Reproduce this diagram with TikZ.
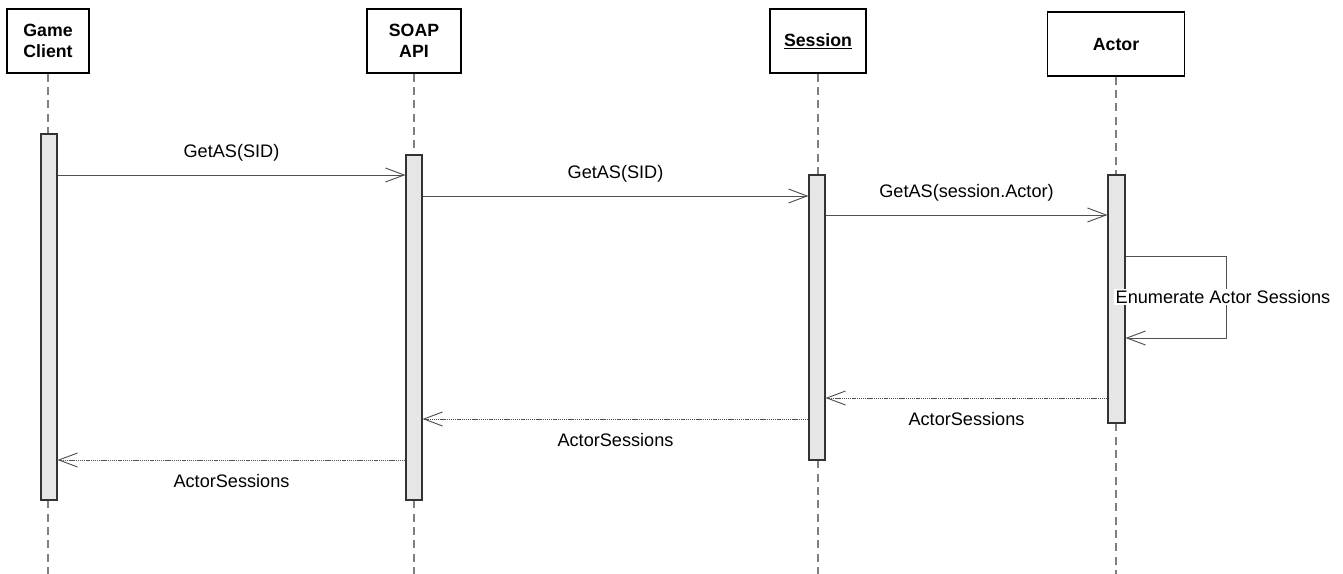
\documentclass[tikz,border=0pt]{standalone}
\usepackage{fontspec}
\setmainfont{Liberation Sans}
\usepackage{xcolor}
\usetikzlibrary{arrows.meta,fit}
\definecolor{linegray}{RGB}{80,80,80}
\definecolor{barfill}{RGB}{230,230,230}
\tikzset{
  head/.style={draw=black,line width=0.8pt,fill=white,align=center,inner sep=0pt,
    font=\fontsize{13.3}{15.5}\selectfont\bfseries},
  lifeline/.style={draw=gray,line width=0.8pt,dash pattern=on 6pt off 4pt},
  actbar/.style={draw=black!80,line width=0.8pt,fill=barfill,inner sep=0pt},
  msg/.style={draw=linegray,line width=0.7pt,-{Straight Barb[length=14pt,width=10.5pt]}},
  reply/.style={msg,dash pattern=on 1pt off 0.6pt},
  lbl/.style={font=\fontsize{13.6}{16}\selectfont,text=black}
}
\begin{document}
\begin{tikzpicture}[x=0.75pt,y=-0.75pt]
    \useasboundingbox (0,0) rectangle (1343,574);
    \node[head,minimum width=61.5pt,minimum height=48pt] (gc) at (48,41) {Game\\Client};
    \node[head,minimum width=70.5pt,minimum height=48pt] (soap) at (414,41) {SOAP\\API};
    \node[head,minimum width=72pt,minimum height=48pt] (sess) at (818,41) {\underline{Session}};
    \node[head,minimum width=102.75pt,minimum height=48pt] (actor) at (1116,44) {Actor};

    \draw[lifeline] (gc.south) -- (gc.south |- 0,574);
    \draw[lifeline] (soap.south) -- (soap.south |- 0,574);
    \draw[lifeline] (sess.south) -- (sess.south |- 0,574);
    \draw[lifeline] (actor.south) -- (actor.south |- 0,574);

    \node[actbar,fit={(41,134) (57,500)}] (gcbar) {};
    \node[actbar,fit={(406,155) (422,500)}] (soapbar) {};
    \node[actbar,fit={(809,175) (825,460)}] (sessbar) {};
    \node[actbar,fit={(1108,175) (1125,423)}] (actorbar) {};

    \draw[msg] (gcbar.east |- 0,175) -- node[lbl,above=7pt]{GetAS(SID)} (soapbar.west |- 0,175);
    \draw[msg] (soapbar.east |- 0,196) -- node[lbl,above=7pt]{GetAS(SID)} (sessbar.west |- 0,196);
    \draw[msg] (sessbar.east |- 0,215) -- node[lbl,above=7pt]{GetAS(session.Actor)} (actorbar.west |- 0,215);

    \coordinate (loop) at (1226,297);
    \draw[msg] (actorbar.east |- 0,256) -| (loop) |- (actorbar.east |- 0,338);
    \node[lbl,fill=white,inner sep=1pt] (enum) at (1223,297) {Enumerate Actor Sessions};

    \draw[reply] (actorbar.west |- 0,398) -- node[lbl,below=7pt]{ActorSessions} (sessbar.east |- 0,398);
    \draw[reply] (sessbar.west |- 0,419) -- node[lbl,below=7pt]{ActorSessions} (soapbar.east |- 0,419);
    \draw[reply] (soapbar.west |- 0,460) -- node[lbl,below=7pt]{ActorSessions} (gcbar.east |- 0,460);
\end{tikzpicture}
\end{document}
